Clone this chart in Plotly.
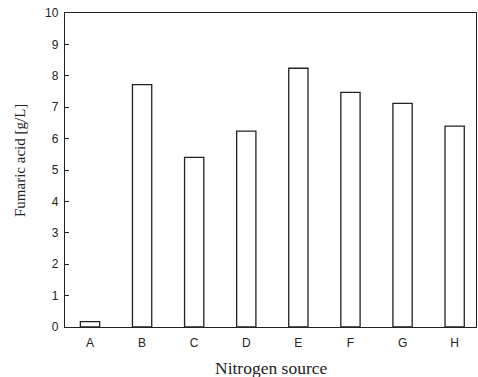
import plotly.graph_objects as go

categories = ["A", "B", "C", "D", "E", "F", "G", "H"]
fumaric_acid = [0.17, 7.72, 5.40, 6.24, 8.24, 7.47, 7.12, 6.40]
y_ticks = [0, 1, 2, 3, 4, 5, 6, 7, 8, 9, 10]
x_title = "Nitrogen source"
y_title = "Fumaric acid [g/L]"

W, H = 478, 377
ML, MR, MT, MB = 65, 2, 13, 50

fig = go.Figure()
fig.add_trace(go.Bar(
    x=list(range(len(categories))),
    y=fumaric_acid,
    width=0.37,
    marker=dict(color="white", line=dict(color="#222222", width=1.3)),
))

serif = "Liberation Serif, Times New Roman, serif"
fig.update_layout(
    width=W, height=H,
    margin=dict(l=ML, r=MR, t=MT, b=MB),
    paper_bgcolor="white", plot_bgcolor="white",
    showlegend=False,
    font=dict(family="Liberation Sans, Arial, sans-serif", color="#222222", size=12),
    annotations=[
        dict(text=x_title, xref="paper", yref="paper",
             x=(271 - ML) / (W - ML - MR), y=-(368 - (H - MB)) / (H - MT - MB),
             xanchor="center", yanchor="middle", showarrow=False,
             font=dict(family=serif, size=17.5, color="#222222")),
        dict(text=y_title, xref="paper", yref="paper", textangle=-90,
             x=-(ML - 20) / (W - ML - MR), y=((H - MB) - 161) / (H - MT - MB),
             xanchor="center", yanchor="middle", showarrow=False,
             font=dict(family=serif, size=15, color="#222222")),
    ],
)
fig.update_xaxes(
    range=[-0.48, 7.41],
    tickmode="array", tickvals=list(range(len(categories))), ticktext=categories,
    ticks="", showgrid=False, zeroline=False,
    showline=True, linecolor="#222222", linewidth=1.3, mirror=True,
    tickfont=dict(size=12), ticklabelstandoff=4,
)
fig.update_yaxes(
    range=[0, 10],
    tickmode="array", tickvals=y_ticks,
    ticks="inside", ticklen=4, tickcolor="#222222", tickwidth=1,
    showgrid=False, zeroline=False,
    showline=True, linecolor="#222222", linewidth=1.3, mirror=True,
    tickfont=dict(size=12), ticklabelstandoff=3,
)

fig.write_html("out.html")
